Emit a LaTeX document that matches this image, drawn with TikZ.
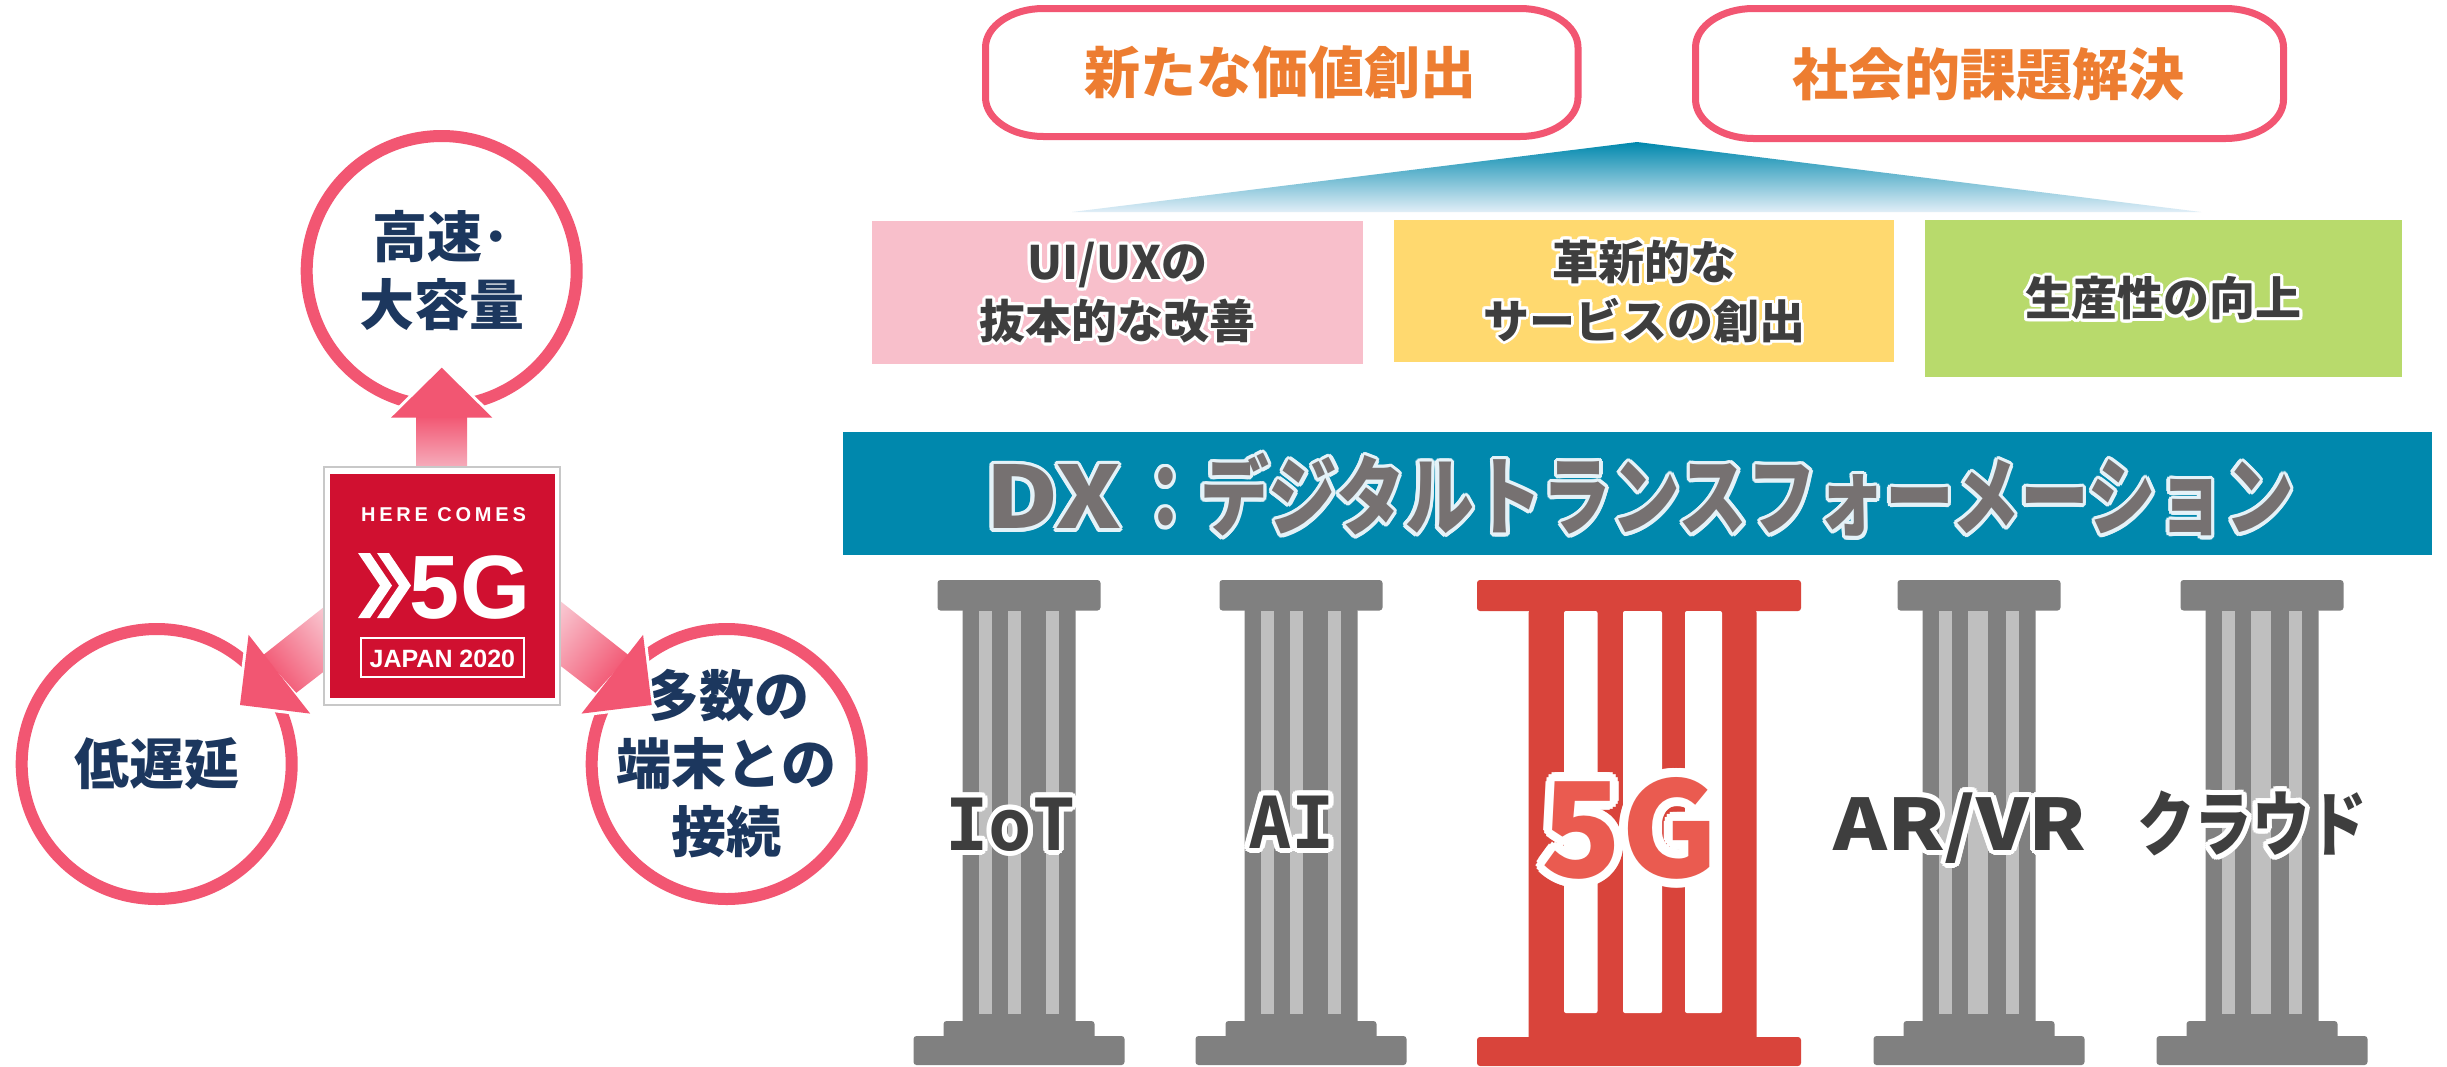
\documentclass[tikz,border=0pt]{standalone}
\usepackage{fontspec}
\usepackage{graphicx}
\newfontfamily\jp{Noto Sans CJK JP}
\newfontfamily\logofont{Liberation Sans}
\newfontfamily\slabmono{DejaVu Sans Mono}

\definecolor{ringpink}{RGB}{242,86,114}
\definecolor{arrowpale}{RGB}{246,178,192}
\definecolor{navy}{RGB}{28,55,94}
\definecolor{logored}{RGB}{208,16,48}
\definecolor{logoedge}{RGB}{200,200,200}
\definecolor{orangetxt}{RGB}{237,125,49}
\definecolor{dxteal}{RGB}{0,136,173}
\definecolor{tealpale}{RGB}{225,238,247}
\definecolor{dxglow}{RGB}{228,242,248}
\definecolor{boxpink}{RGB}{248,191,203}
\definecolor{boxyellow}{RGB}{255,217,111}
\definecolor{boxgreen}{RGB}{184,218,108}
\definecolor{darktxt}{RGB}{62,62,62}
\definecolor{dxgray}{RGB}{118,113,113}
\definecolor{pillargray}{RGB}{128,128,128}
\definecolor{flute}{RGB}{191,191,191}
\definecolor{pillarred}{RGB}{217,68,59}
\definecolor{label5g}{RGB}{234,91,80}

% text with a halo: copies of the text in the halo colour around it
\newbox\glowbox
\newdimen\glowr
\newcommand\glowcopy[2]{\rlap{\kern#1\glowr\raise#2\glowr\copy\glowbox}}
\newcommand\glowtext[3]{%
  \setbox\glowbox\hbox{#3}%
  \glowr=#2\relax
  \leavevmode\rlap{\color{#1}%
    \glowcopy{1}{0}\glowcopy{-1}{0}\glowcopy{0}{1}\glowcopy{0}{-1}%
    \glowcopy{.707}{.707}\glowcopy{-.707}{.707}\glowcopy{.707}{-.707}\glowcopy{-.707}{-.707}%
    \glowcopy{.924}{.383}\glowcopy{-.924}{.383}\glowcopy{.924}{-.383}\glowcopy{-.924}{-.383}%
    \glowcopy{.383}{.924}\glowcopy{-.383}{.924}\glowcopy{.383}{-.924}\glowcopy{-.383}{-.924}%
    \glowcopy{.5}{0}\glowcopy{-.5}{0}\glowcopy{0}{.5}\glowcopy{0}{-.5}}%
  \box\glowbox}

% grey column: name, centre x, right edge of the middle flute
\newcommand\graypillar[3]{%
  \begin{scope}[shift={(#2,0)}]
    \fill[pillargray, rounded corners=3pt] (-81.5,580) rectangle (81.5,610.5);
    \fill[pillargray, rounded corners=2pt] (-56.5,609) rectangle (56.5,1024);
    \fill[flute] (-40,610.5) rectangle (-27,1014);
    \fill[flute] (-11,610.5) rectangle (#3,1014);
    \fill[flute] (27,610.5) rectangle (40,1014);
    \fill[pillargray, rounded corners=3pt] (-75.5,1021) rectangle (75.5,1040);
    \fill[pillargray, rounded corners=3pt] (-105.5,1036) rectangle (105.5,1065);
    \coordinate (#1) at (0,823);
  \end{scope}}

\begin{document}
\begin{tikzpicture}[x=1pt, y=-1pt,
  every node/.style={inner sep=0pt, outer sep=0pt},
  ring/.style={circle, draw=ringpink, line width=12pt, fill=white, minimum size=270pt},
  ringtext/.style={text=navy, align=center, font=\jp\bfseries\fontsize{55}{68}\selectfont},
  goaltext/.style={text=orangetxt, font=\jp\bfseries\fontsize{56}{60}\selectfont},
  goalline/.style={draw=ringpink, line width=7pt, fill=white},
  effectbox/.style={minimum width=#1, text=darktxt, align=center,
    font=\jp\bfseries\fontsize{46}{59}\selectfont},
  pillarlabel/.style={text=darktxt, font=\jp\bfseries\fontsize{71}{71}\selectfont},
  arrowedge/.style={draw=white, line width=6pt, line join=miter},
  arrowhead/.style={fill=ringpink}
]
\useasboundingbox (0,0) rectangle (2447,1066);
\fill[white] (0,0) rectangle (2447,1066);

% ---------- 5G features ----------
\node[ring] (fast) at (441.7,271) {};
\node[ring] (lowlat) at (156.7,764) {};
\node[ring] (multi) at (726.7,764) {};
\node[ringtext] (fasttxt) at (fast.center) {高速･\\大容量};
\node[ringtext] (lowlattxt) at (lowlat.center) {低遅延};
\node[ringtext] (multitxt) at (multi.center) {多数の\\端末との\\接続};

% block arrows from the logo to the three features
\coordinate (tipfast) at (441.7,367.7);
\coordinate (tiplow) at (240,705);
\coordinate (tipmulti) at (651.7,705);

\draw[arrowedge] (tipfast) -- (492.4,417.7) -- (467.2,417.7) -- (467.2,470)
  -- (416.2,470) -- (416.2,417.7) -- (391,417.7) -- cycle;
\shade[top color=ringpink, bottom color=arrowpale] (416.2,416) rectangle (467.2,470);
\fill[arrowhead] (tipfast) -- (492.4,417.7) -- (391,417.7) -- cycle;

\draw[arrowedge] (tiplow) -- (248.6,634.8) -- (263.7,654.1) -- (322.8,607.9)
  -- (354.2,648.1) -- (295.1,694.3) -- (310.2,713.6) -- cycle;
\shade[top color=arrowpale!60!white, bottom color=ringpink, shading angle=-52]
  (262.5,655.6) -- (322.8,607.9) -- (354.2,648.1) -- (296.3,692.8) -- cycle;
\fill[arrowhead] (tiplow) -- (248.6,634.8) -- (310.2,713.6) -- cycle;

\draw[arrowedge] (tipmulti) -- (643.1,634.8) -- (628.0,654.1) -- (561.0,601.7)
  -- (529.6,641.9) -- (596.6,694.3) -- (581.5,713.6) -- cycle;
\shade[top color=arrowpale!60!white, bottom color=ringpink, shading angle=52]
  (629.2,655.6) -- (561.0,601.7) -- (529.6,641.9) -- (595.4,692.8) -- cycle;
\fill[arrowhead] (tipmulti) -- (643.1,634.8) -- (581.5,713.6) -- cycle;

% logo
\node[draw=logoedge, line width=2pt, fill=white, minimum width=236pt, minimum height=238pt] (logo) at (441.7,586) {};
\node[fill=logored, minimum width=225pt, minimum height=224pt] (logored) at (442.5,586) {};
\node[text=white, font=\logofont\bfseries\fontsize{20}{20}\selectfont\addfontfeature{LetterSpace=19}, anchor=base]
  (here) at (443.5,521.7) {HERE COMES};
\fill[white] (358,553) -- (370,553) -- (392,585.5) -- (370,618) -- (358,618) -- (380,585.5) -- cycle;
\fill[white] (377,553) -- (389,553) -- (411,585.5) -- (389,618) -- (377,618) -- (399,585.5) -- cycle;
\node[text=white, font=\logofont\bfseries\fontsize{90}{90}\selectfont, anchor=base] (five) at (470,618) {5G};
\node[draw=white, line width=1.5pt, minimum width=163pt, minimum height=38.7pt] (japanbox) at (442.4,657.4) {};
\node[text=white, font=\logofont\bfseries\fontsize{25}{25}\selectfont, anchor=base] (japan) at (442.4,667) {JAPAN 2020};

% ---------- goals ----------
\draw[goalline] (1043.5,8.5) -- (1520,8.5) arc[start angle=-90, end angle=0, x radius=58, y radius=39]
  -- (1578,97.5) arc[start angle=0, end angle=90, x radius=58, y radius=39]
  -- (1043.5,136.5) arc[start angle=90, end angle=180, x radius=58, y radius=39]
  -- (985.5,47.5) arc[start angle=180, end angle=270, x radius=58, y radius=39] -- cycle;
\draw[goalline] (1753.5,8.5) -- (2225.5,8.5) arc[start angle=-90, end angle=0, x radius=58, y radius=39]
  -- (2283.5,99.5) arc[start angle=0, end angle=90, x radius=58, y radius=39]
  -- (1753.5,138.5) arc[start angle=90, end angle=180, x radius=58, y radius=39]
  -- (1695.5,47.5) arc[start angle=180, end angle=270, x radius=58, y radius=39] -- cycle;
\node[goaltext] (newvalue) at (1280,72.5) {新たな価値創出};
\node[goaltext] (social) at (1988.5,74.5) {社会的課題解決};

% roof
\shade[top color=dxteal, middle color=dxteal, bottom color=tealpale]
  (1637,142) -- (2201,212) -- (1072,212) -- cycle;

% ---------- effects ----------
\node[effectbox=491pt, fill=boxpink, minimum height=143pt] (uiux) at (1117.5,292.5)
  {\glowtext{white}{3pt}{UI/UXの}\\\glowtext{white}{3pt}{抜本的な改善}};
\node[effectbox=499.5pt, fill=boxyellow, minimum height=142pt] (service) at (1644.2,291)
  {\glowtext{white}{3pt}{革新的な}\\\glowtext{white}{3pt}{サービスの創出}};
\node[effectbox=477.5pt, fill=boxgreen, minimum height=157pt] (product) at (2163.7,298.5)
  {\glowtext{white}{3pt}{生産性の向上}};

% ---------- DX banner ----------
\node[fill=dxteal, minimum width=1589pt, minimum height=123pt] (dx) at (1637.5,493.5) {};
\node[text=dxgray, font=\jp\bfseries\fontsize{86}{90}\selectfont] (dxtxt) at (1639.5,495)
  {\glowtext{dxglow}{3.5pt}{\scalebox{1.17}[1]{DX}\kern10pt\scalebox{0.80}[1]{：デジタルトランスフォーメーション}}};

% ---------- columns ----------
\graypillar{colIoT}{1019}{2}
\graypillar{colAI}{1301}{2}
\graypillar{colAR}{1979}{9}
\graypillar{colCloud}{2262}{9}

\fill[pillarred, rounded corners=3pt] (1477,580) rectangle (1801,611);
\fill[pillarred, rounded corners=4pt] (1528.5,609) rectangle (1756.7,1045);
\fill[white, rounded corners=2pt] (1564,611) rectangle (1597.5,1013);
\fill[white, rounded corners=2pt] (1623,611) rectangle (1662,1013);
\fill[white, rounded corners=2pt] (1685,611) rectangle (1722,1013);
\fill[pillarred, rounded corners=3pt] (1477,1037) rectangle (1801,1066);
\coordinate (col5G) at (1641,823);

\node[pillarlabel, font=\slabmono\bfseries\fontsize{72}{72}\selectfont, anchor=base]
  (iot) at (1010.4,850) {\glowtext{white}{5pt}{IoT}};
\node[pillarlabel, font=\slabmono\bfseries\fontsize{72}{72}\selectfont, anchor=base]
  (ai) at (1291.5,848) {\glowtext{white}{5pt}{AI}};
\node[text=label5g, font=\jp\bfseries\fontsize{132}{132}\selectfont, anchor=base]
  (fiveg) at (1630,877) {\glowtext{white}{9pt}{5G}};
\node[pillarlabel, anchor=base] (arvr) at (1960,850) {\glowtext{white}{5pt}{\scalebox{1.15}[1]{AR/VR}}};
\node[pillarlabel] (cloud) at (2252,823.5) {\glowtext{white}{5pt}{\scalebox{0.81}[1]{クラウド}}};
\end{tikzpicture}
\end{document}
